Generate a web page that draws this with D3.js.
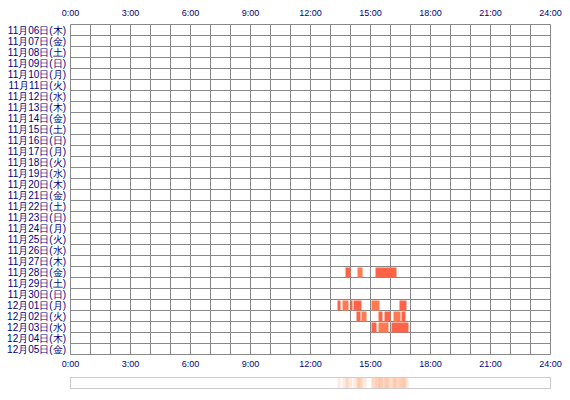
<!DOCTYPE html>
<html><head><meta charset="utf-8">
<script src="https://cdn.jsdelivr.net/npm/d3@7"></script>
<style>body{margin:0;background:#fff}</style>
</head><body>
<script>
const days = ["11月06日(木)","11月07日(金)","11月08日(土)","11月09日(日)","11月10日(月)","11月11日(火)","11月12日(水)","11月13日(木)","11月14日(金)","11月15日(土)","11月16日(日)","11月17日(月)","11月18日(火)","11月19日(水)","11月20日(木)","11月21日(金)","11月22日(土)","11月23日(日)","11月24日(月)","11月25日(火)","11月26日(水)","11月27日(木)","11月28日(金)","11月29日(土)","11月30日(日)","12月01日(月)","12月02日(火)","12月03日(水)","12月04日(木)","12月05日(金)"];
const hourTicks = [0,3,6,9,12,15,18,21,24];
// [day, start hour, end hour]
const sessions = [
  ["11月28日(金)",13.75,14.0],["11月28日(金)",14.35,14.6],["11月28日(金)",15.25,16.3],
  ["12月01日(月)",13.35,13.5],["12月01日(月)",13.6,13.9],["12月01日(月)",14.0,14.1],["12月01日(月)",14.15,14.55],["12月01日(月)",15.05,15.45],["12月01日(月)",16.45,16.8],
  ["12月02日(火)",14.3,14.5],["12月02日(火)",14.55,14.8],["12月02日(火)",15.4,15.6],["12月02日(火)",15.7,16.0],["12月02日(火)",16.15,16.5],["12月02日(火)",16.55,16.75],
  ["12月03日(水)",15.05,15.3],["12月03日(水)",15.4,15.9],["12月03日(水)",16.05,16.9]
];

const svg = d3.select("body").append("svg").attr("width",570).attr("height",400);
const x = d3.scaleLinear().domain([0,24]).range([70.5,550.5]);
const y = d3.scaleBand().domain(days).range([24.5,354.5]);
const font = "'Liberation Sans', Arial, sans-serif";

// grid
svg.append("g").selectAll("line").data(d3.range(25)).join("line")
  .attr("x1",d=>x(d)).attr("x2",d=>x(d)).attr("y1",24.5).attr("y2",354.5)
  .attr("stroke","#888").attr("stroke-width",1);
svg.append("g").selectAll("line").data(d3.range(31)).join("line")
  .attr("y1",d=>24.5+d*y.step()).attr("y2",d=>24.5+d*y.step()).attr("x1",70.5).attr("x2",550.5)
  .attr("stroke","#888").attr("stroke-width",1);

// bars
svg.append("g").selectAll("rect").data(sessions).join("rect")
  .attr("x",d=>x(d[1])).attr("width",d=>x(d[2])-x(d[1]))
  .attr("y",d=>y(d[0])+1).attr("height",y.bandwidth()-1)
  .attr("fill",(d,i)=>i%3===1?"#ff7a50":"#ff6347");

// day labels
svg.append("g").selectAll("text").data(days).join("text")
  .attr("x",66).attr("y",d=>y(d)+y.bandwidth()/2+4)
  .attr("text-anchor","end").attr("font-family",font).attr("font-size",10).attr("fill","#000080")
  .text(d=>d);

// hour labels top & bottom
[16,367].forEach(ty=>{
  svg.append("g").selectAll("text").data(hourTicks).join("text")
    .attr("x",d=>x(d)).attr("y",ty).attr("text-anchor","middle")
    .attr("font-family",font).attr("font-size",9).attr("fill","#000080")
    .text(d=>d+":00");
});

// overview strip
svg.append("rect").attr("x",70.5).attr("y",377.5).attr("width",480).attr("height",11)
  .attr("fill","#fff").attr("stroke","#ccc");
svg.append("g").selectAll("rect").data(sessions).join("rect")
  .attr("x",d=>x(d[1])).attr("width",d=>x(d[2])-x(d[1]))
  .attr("y",378).attr("height",10).attr("fill","#ff8c50").attr("opacity",0.18);
</script>
</body></html>
